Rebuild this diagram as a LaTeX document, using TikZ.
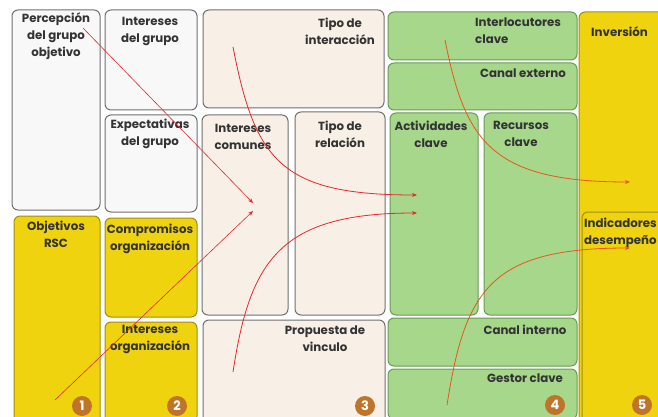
\documentclass[tikz,border=0pt]{standalone}
\usepackage{fontspec}
\setmainfont{Poppins}
\usetikzlibrary{arrows.meta}
\definecolor{ylw}{HTML}{EFD30E}
\definecolor{ylwd}{HTML}{A08F12}
\definecolor{grn}{HTML}{A6D78B}
\definecolor{grnd}{HTML}{6A9A55}
\definecolor{beige}{HTML}{F8F0E6}
\definecolor{wht}{HTML}{F8F8F8}
\definecolor{brd}{HTML}{707070}
\definecolor{badgec}{HTML}{C0742A}
\definecolor{txt}{HTML}{333333}
\definecolor{arr}{HTML}{E8282A}
\definecolor{arro}{HTML}{E8561A}
\begin{document}
\begin{tikzpicture}[x=1pt,y=-1pt,
  box/.style={rounded corners=6pt, line width=1pt, anchor=north west, inner sep=0pt, outer sep=0pt},
  wbox/.style={box, fill=wht, draw=brd},
  ybox/.style={box, fill=ylw, draw=ylwd},
  bbox/.style={box, fill=beige, draw=brd},
  gbox/.style={box, fill=grn, draw=grnd},
  lbl/.style={align=center, text=txt, inner sep=0pt, font=\bfseries\fontsize{11.8}{17}\selectfont},
  badge/.style={circle, fill=badgec, minimum size=20pt, inner sep=0pt, text=white, font=\bfseries\fontsize{13}{13}\selectfont},
  flow/.style={line width=0.8pt, -{Stealth[length=5pt,width=4pt]}},
]
\useasboundingbox (0,0) rectangle (658,417);
\clip (0,0) rectangle (658,417);
\fill[white] (0,0) rectangle (658,417);
% column 1
\node[wbox, minimum width=88pt, minimum height=200pt] (p1) at (12,10) {};
\node[ybox, minimum width=86pt, minimum height=210pt] (o1) at (14,216) {};
% column 2
\node[wbox, minimum width=92pt, minimum height=100pt] (ig) at (105,10) {};
\node[wbox, minimum width=92pt, minimum height=97pt] (eg) at (105,115) {};
\node[ybox, minimum width=92pt, minimum height=99pt] (co) at (105,218) {};
\node[ybox, minimum width=92pt, minimum height=100pt] (io) at (105,322) {};
% column 3
\node[bbox, minimum width=181pt, minimum height=98pt] (ti) at (203,10) {};
\node[bbox, minimum width=86pt, minimum height=200pt] (ic) at (202,115) {};
\node[bbox, minimum width=90pt, minimum height=203pt] (tr) at (295,112) {};
\node[bbox, minimum width=182pt, minimum height=105pt] (pv) at (203,320) {};
% column 4
\node[gbox, minimum width=189pt, minimum height=48pt] (il) at (388,12) {};
\node[gbox, minimum width=189pt, minimum height=47pt] (ce) at (388,63) {};
\node[gbox, minimum width=88pt, minimum height=202pt] (ac) at (390,113) {};
\node[gbox, minimum width=93pt, minimum height=202pt] (rc) at (484,113) {};
\node[gbox, minimum width=189pt, minimum height=48pt] (cin) at (388,318) {};
\node[gbox, minimum width=189pt, minimum height=50pt] (gc) at (388,369) {};
% column 5
\node[ybox, minimum width=90pt, minimum height=420pt] (inv) at (579,12) {};
\node[ybox, minimum width=90pt, minimum height=220pt] (ind) at (582,212) {};
% labels
\node[lbl] (tp1) at (56,36) {Percepción\\del grupo\\objetivo};
\node[lbl] (to1) at (56,234) {Objetivos\\RSC};
\node[lbl] (tig) at (150,31) {Intereses\\del grupo};
\node[lbl] (teg) at (150,133.5) {Expectativas\\del grupo};
\node[lbl] (tco) at (150,239) {Compromisos\\organización};
\node[lbl] (tio) at (150,339) {Intereses\\organización};
\node[lbl] (tti) at (340,31) {Tipo de\\interacción};
\node[lbl] (tic) at (243,137) {Intereses\\comunes};
\node[lbl] (ttr) at (340,134) {Tipo de\\relación};
\node[lbl] (tpv) at (325,339) {Propuesta de\\vinculo};
\node[lbl, align=left, anchor=west] (til) at (475,31) {Interlocutores\\clave};
\node[lbl] (tce) at (523,73) {Canal externo};
\node[lbl] (tac) at (431,134) {Actividades\\clave};
\node[lbl] (trc) at (521,134) {Recursos\\clave};
\node[lbl] (tcin) at (525,330) {Canal interno};
\node[lbl] (tgc) at (525,378) {Gestor clave};
\node[lbl, anchor=west] (tinv) at (591,32) {Inversión};
\node[lbl, align=left, anchor=west] (tind) at (584,233) {Indicadores\\desempeño};
% badges
\node[badge] (b1) at (82,406) {1};
\node[badge] (b2) at (177,406) {2};
\node[badge] (b3) at (365,406) {3};
\node[badge] (b4) at (555,405) {4};
\node[badge] (b5) at (642,405) {5};
% flow coordinates
\coordinate (s1) at (83,28);
\coordinate (e1) at (253,203);
\coordinate (s2) at (55,400);
\coordinate (e2) at (253,211);
\coordinate (s3) at (233,47);
\coordinate (e3) at (417,195);
\coordinate (s4) at (233,372);
\coordinate (e4) at (417,213);
\coordinate (s5) at (445,40);
\coordinate (e5) at (630,182);
\coordinate (s6) at (447,405);
\coordinate (e6) at (630,248);
\draw[flow, arr, line width=0.6pt] (s1) -- (e1);
\draw[flow, arr, line width=0.6pt] (s2) -- (e2);
\draw[flow, arr] (s3) .. controls (255,160) and (280,195) .. (e3);
\draw[flow, arr] (s4) .. controls (250,260) and (280,213) .. (e4);
\draw[flow, arro] (s5) .. controls (465,140) and (490,182) .. (e5);
\draw[flow, arro] (s6) .. controls (465,290) and (490,248) .. (e6);
\end{tikzpicture}
\end{document}
